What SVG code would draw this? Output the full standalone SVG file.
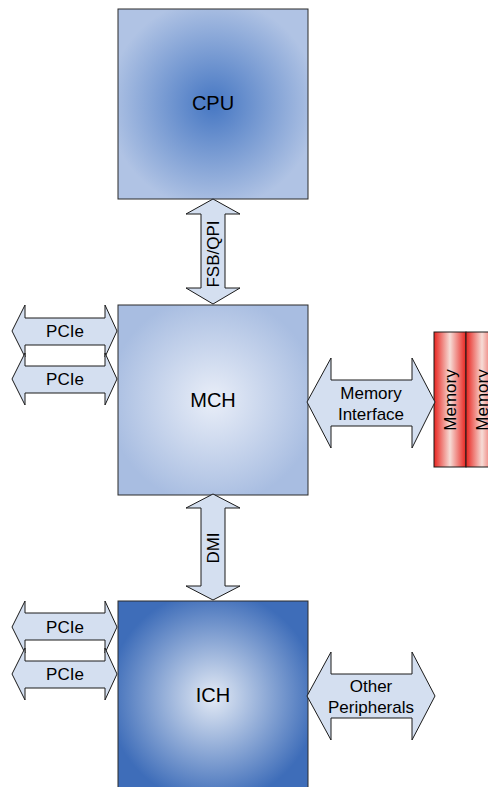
<svg xmlns="http://www.w3.org/2000/svg" width="488" height="787" viewBox="0 0 488 787">
<defs>
<radialGradient id="gCPU" cx="0.5" cy="0.5" r="0.55"><stop offset="0" stop-color="#4677c3"/><stop offset="1" stop-color="#b0c3e4"/></radialGradient>
<radialGradient id="gMCH" cx="0.5" cy="0.5" r="0.55"><stop offset="0" stop-color="#e9eef8"/><stop offset="1" stop-color="#a8bde1"/></radialGradient>
<radialGradient id="gICH" cx="0.5" cy="0.5" r="0.55"><stop offset="0" stop-color="#e3eaf5"/><stop offset="1" stop-color="#3e6db9"/></radialGradient>
<linearGradient id="gMem" x1="0" y1="0" x2="1" y2="0"><stop offset="0" stop-color="#e8241f"/><stop offset="0.5" stop-color="#f6dcd6"/><stop offset="1" stop-color="#e8241f"/></linearGradient>
</defs>
<style>
.box{stroke:#2b2b2b;stroke-width:1}
.arr{fill:#d4dff0;stroke:#1a1a1a;stroke-width:1}
.mem{fill:url(#gMem);stroke:#1a1a1a;stroke-width:1}
text{font-family:"Liberation Sans",Arial,sans-serif;fill:#000;text-anchor:middle}
.big{font-size:20px}
.lbl{font-size:17px}
</style>
<g id="cpu"><rect class="box" x="118" y="9" width="190" height="190" fill="url(#gCPU)"/><text class="big" x="213" y="110">CPU</text></g>
<g id="mch"><rect class="box" x="118" y="305" width="190" height="190" fill="url(#gMCH)"/><text class="big" x="213" y="407">MCH</text></g>
<g id="ich"><rect class="box" x="118" y="601" width="190" height="192" fill="url(#gICH)"/><text class="big" x="213" y="702">ICH</text></g>
<g id="memory1"><rect class="mem" x="434" y="332" width="32" height="135"/><text class="lbl" transform="translate(456,400) rotate(-90)">Memory</text></g>
<g id="memory2"><rect class="mem" x="466" y="332" width="32" height="135"/><text class="lbl" transform="translate(488,400) rotate(-90)">Memory</text></g>
<g id="connectors">
<g id="fsb"><path class="arr" d="M213,199 L240,214 L225,214 L225,288 L240,288 L213,304 L186,288 L201,288 L201,214 L186,214 Z"/><text class="lbl" transform="translate(219,254) rotate(-90)">FSB/QPI</text></g>
<g id="dmi"><path class="arr" d="M213,494 L240,508 L225,508 L225,586 L240,586 L213,600 L186,586 L201,586 L201,508 L186,508 Z"/><text class="lbl" transform="translate(219,548) rotate(-90)">DMI</text></g>
<g id="pcie1"><path class="arr" d="M12,331 L25,305 L25,318 L105,318 L105,305 L117,331 L105,357 L105,345 L25,345 L25,357 Z"/><text class="lbl" x="65" y="337">PCIe</text></g>
<g id="pcie2"><path class="arr" d="M12,379 L25,353 L25,366 L105,366 L105,353 L117,379 L105,405 L105,393 L25,393 L25,405 Z"/><text class="lbl" x="65" y="385">PCIe</text></g>
<g id="pcie3"><path class="arr" d="M12,627 L25,601 L25,613 L105,613 L105,601 L117,627 L105,653 L105,640 L25,640 L25,653 Z"/><text class="lbl" x="65" y="633">PCIe</text></g>
<g id="pcie4"><path class="arr" d="M12,674 L25,648 L25,661 L105,661 L105,648 L117,674 L105,700 L105,688 L25,688 L25,700 Z"/><text class="lbl" x="65" y="680">PCIe</text></g>
<g id="memif"><path class="arr" d="M307,402 L331,358 L331,380 L412,380 L412,358 L435,402 L412,448 L412,426 L331,426 L331,448 Z"/><text class="lbl" x="371" y="399">Memory</text><text class="lbl" x="371" y="420">Interface</text></g>
<g id="periph"><path class="arr" d="M307,696 L331,652 L331,674 L412,674 L412,652 L435,696 L412,740 L412,718 L331,718 L331,740 Z"/><text class="lbl" x="371" y="692">Other</text><text class="lbl" x="371" y="713">Peripherals</text></g>
</g>
</svg>
